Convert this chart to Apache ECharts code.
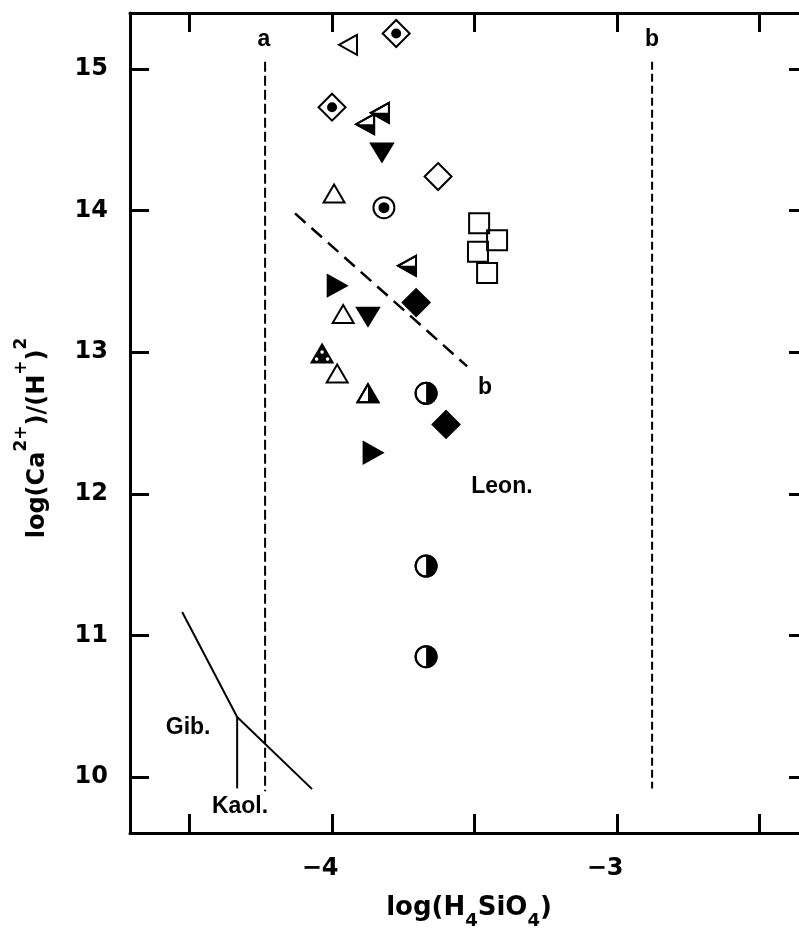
<!DOCTYPE html>
<html>
<head>
<meta charset="utf-8">
<script src="https://cdn.jsdelivr.net/npm/echarts@6/dist/echarts.min.js"></script>
<style>
  html, body { margin: 0; padding: 0; background: #ffffff; }
  #chart { width: 799px; height: 930px; }
</style>
</head>
<body>
<div id="chart"></div>
<script>
// ---- axis ranges and ticks ----
const xRange = [-4.709, -2.33];
const yRange = [9.605, 15.395];
const xTickValues = [-4.5, -4, -3.5, -3, -2.5];
const xLabelValues = [-4, -3];
const xLabelTexts = ['\u22124', '\u22123'];
const yTickValues = [10, 11, 12, 13, 14, 15];
const yLabelValues = [10, 11, 12, 13, 14, 15];

// ---- sample points: [log(H4SiO4), log(Ca2+)/(H+)2] ----
const openLeftTri   = [[-3.944, 15.17]];
const dotDiamond    = [[-3.775, 15.25], [-4.000, 14.73]];
const halfLeftTri   = [[-3.832, 14.69], [-3.884, 14.61], [-3.737, 13.61]];
const filledDownTri = [[-3.825, 14.41], [-3.874, 13.25]];
const openDiamond   = [[-3.628, 14.24]];
const openUpTri     = [[-3.993, 14.12], [-3.961, 13.27], [-3.982, 12.85]];
const dotCircle     = [[-3.818, 14.02]];
const openSquare    = [[-3.484, 13.91], [-3.421, 13.79], [-3.488, 13.71], [-3.456, 13.56]];
const filledRightTri= [[-3.982, 13.47], [-3.856, 12.29]];
const filledDiamond = [[-3.705, 13.35], [-3.600, 12.49]];
const notchedUpTri  = [[-4.035, 12.99]];
const halfUpTri     = [[-3.874, 12.71]];
const halfCircle    = [[-3.670, 12.71], [-3.670, 11.49], [-3.670, 10.85]];

// ---- boundary lines ----
const lineA        = [[-4.235, 15.05], [-4.235, 9.90]];
const lineB        = [[-2.877, 15.05], [-2.877, 9.92]];
const lineBSlope   = [[-4.130, 13.98], [-3.526, 12.90]];
const gibbsiteLine = [[-4.526, 11.165], [-4.333, 10.424], [-4.070, 9.915]];
const kaoliniteLine= [[-4.333, 10.424], [-4.333, 9.92]];

// ---- annotations: [x, y, text] ----
const annotations = [
  [-4.239, 15.205, 'a'],
  [-2.877, 15.205, 'b'],
  [-3.463, 12.747, 'b'],
  [-4.505, 10.346, 'Gib.'],
  [-4.323, 9.790, 'Kaol.'],
  [-3.404, 12.048, 'Leon.']
];

const INK = '#000000';
const LW = 2;
const AXIS_FONT = '"DejaVu Sans", sans-serif';
const NOTE_FONT = 'bold 23px "Liberation Sans", Arial, sans-serif';

// marker geometry (pixels, centred on the point)
const UP = [[0, -9], [10.5, 9], [-10.5, 9]];
const DOWN = [[-11, -9], [11, -9], [0, 9]];
const RIGHT = [[-9.5, -10.5], [9.5, 0], [-9.5, 10.5]];
const LEFT = [[9, -10], [-9, 0], [9, 10]];
const DIAMOND = [[0, -13.5], [13.5, 0], [0, 13.5], [-13.5, 0]];

const poly = (pts, fill) => ({ type: 'polygon', shape: { points: pts },
  style: { fill: fill, stroke: INK, lineWidth: LW, lineJoin: 'miter' } });
const solid = (pts) => ({ type: 'polygon', shape: { points: pts }, style: { fill: INK } });
const ring = (r, fill) => ({ type: 'circle', shape: { cx: 0, cy: 0, r: r },
  style: { fill: fill, stroke: INK, lineWidth: LW } });
const dot = (r, cx, cy, color) => ({ type: 'circle', shape: { cx: cx || 0, cy: cy || 0, r: r },
  style: { fill: color || INK } });

const shapes = {
  openLeftTri: () => [poly(LEFT, '#fff')],
  halfLeftTri: () => [poly(LEFT, '#fff'), solid([[-9, 0], [9, 0], [9, 10]]), poly(LEFT, 'none')],
  dotDiamond: () => [poly(DIAMOND, '#fff'), dot(5)],
  openDiamond: () => [poly(DIAMOND, '#fff')],
  filledDiamond: () => [poly(DIAMOND, INK)],
  filledDownTri: () => [poly(DOWN, INK)],
  filledRightTri: () => [poly(RIGHT, INK)],
  openUpTri: () => [poly(UP, '#fff')],
  halfUpTri: () => [poly(UP, '#fff'), solid([[0, -9], [10.5, 9], [0, 9]]), poly(UP, 'none')],
  notchedUpTri: () => [poly(UP, INK), dot(1.8, 0, -1.5, '#fff'), dot(1.8, -5.5, 5.5, '#fff'), dot(1.8, 5.5, 5.5, '#fff')],
  dotCircle: () => [ring(10.5, '#fff'), dot(5.5)],
  halfCircle: () => [ring(10.5, '#fff'),
    { type: 'sector', shape: { cx: 0, cy: 0, r0: 0, r: 10.5, startAngle: -Math.PI / 2, endAngle: Math.PI / 2 },
      style: { fill: INK } },
    ring(10.5, 'none')],
  openSquare: () => [{ type: 'rect', shape: { x: -10, y: -10, width: 20, height: 20 },
    style: { fill: 'none', stroke: INK, lineWidth: LW } }]
};

function markerSeries(data, shapeName) {
  return {
    type: 'custom',
    coordinateSystem: 'cartesian2d',
    data: data,
    encode: { x: 0, y: 1 },
    z: 5,
    silent: true,
    renderItem: function (params, api) {
      const p = api.coord([api.value(0), api.value(1)]);
      return { type: 'group', x: p[0], y: p[1], children: shapes[shapeName]() };
    }
  };
}

function lineSeries(data, dash, width) {
  return {
    type: 'line',
    data: data,
    symbol: 'none',
    silent: true,
    z: 3,
    lineStyle: { color: INK, width: width || 2, type: dash || 'solid' }
  };
}

const annotationSeries = {
  type: 'custom',
  coordinateSystem: 'cartesian2d',
  data: annotations.map(a => [a[0], a[1]]),
  encode: { x: 0, y: 1 },
  z: 6,
  silent: true,
  renderItem: function (params, api) {
    const p = api.coord([api.value(0), api.value(1)]);
    return {
      type: 'text', x: p[0], y: p[1],
      style: { text: annotations[params.dataIndex][2], font: NOTE_FONT, fill: INK,
               align: 'center', verticalAlign: 'middle' }
    };
  }
};

const frameLine = { show: true, onZero: false, lineStyle: { color: INK, width: 3 } };
const tickStyle = { color: INK, width: 3 };

const chart = echarts.init(document.getElementById('chart'), null, { renderer: 'canvas' });

chart.setOption({
  animation: false,
  backgroundColor: '#ffffff',
  grid: { left: 130, top: 13, width: 678, height: 820, outerBoundsMode: 'none', containLabel: false },
  xAxis: [
    {
      type: 'value', position: 'bottom', min: xRange[0], max: xRange[1],
      axisLine: frameLine,
      axisTick: { show: true, inside: true, length: 19, lineStyle: tickStyle, customValues: xTickValues },
      axisLabel: {
        show: true, customValues: xLabelValues, margin: 24,
        color: INK, fontFamily: AXIS_FONT, fontWeight: 'bold', fontSize: 24,
        padding: [0, 24, 0, 0],
        formatter: v => xLabelTexts[xLabelValues.indexOf(v)]
      },
      splitLine: { show: false },
      name: 'log(H{sub|4}SiO{sub|4})',
      nameLocation: 'middle',
      nameGap: 51,
      nameTextStyle: {
        color: INK, fontFamily: AXIS_FONT, fontWeight: 'bold', fontSize: 26, lineHeight: 44,
        rich: {
          sub: { fontFamily: AXIS_FONT, fontWeight: 'bold', fontSize: 18, lineHeight: 16, verticalAlign: 'bottom' }
        }
      }
    },
    {
      type: 'value', position: 'top', min: xRange[0], max: xRange[1],
      axisLine: frameLine,
      axisTick: { show: true, inside: true, length: 19, lineStyle: tickStyle, customValues: xTickValues },
      axisLabel: { show: false },
      splitLine: { show: false }
    }
  ],
  yAxis: [
    {
      type: 'value', position: 'left', min: yRange[0], max: yRange[1],
      axisLine: frameLine,
      axisTick: { show: true, inside: true, length: 19, lineStyle: tickStyle, customValues: yTickValues },
      axisLabel: {
        show: true, customValues: yLabelValues, margin: 22,
        color: INK, fontFamily: AXIS_FONT, fontWeight: 'bold', fontSize: 24
      },
      splitLine: { show: false },
      name: 'log(Ca{sup|2+})/(H{sup|+}){sup|2}',
      nameLocation: 'middle',
      nameGap: 67,
      nameTextStyle: {
        color: INK, fontFamily: AXIS_FONT, fontWeight: 'bold', fontSize: 24, lineHeight: 50,
        padding: [0, 30, 0, 0],
        rich: {
          sup: { fontFamily: AXIS_FONT, fontWeight: 'bold', fontSize: 17, lineHeight: 16, verticalAlign: 'top' }
        }
      }
    },
    {
      type: 'value', position: 'right', min: yRange[0], max: yRange[1],
      axisLine: frameLine,
      axisTick: { show: true, inside: true, length: 19, lineStyle: tickStyle, customValues: yTickValues },
      axisLabel: { show: false },
      splitLine: { show: false }
    }
  ],
  series: [
    lineSeries(lineA, [10, 4], 2),
    lineSeries(lineB, [8, 4], 2),
    lineSeries(lineBSlope, [14, 8], 2.5),
    lineSeries(gibbsiteLine, 'solid', 2),
    lineSeries(kaoliniteLine, 'solid', 2),
    markerSeries(openLeftTri, 'openLeftTri'),
    markerSeries(dotDiamond, 'dotDiamond'),
    markerSeries(halfLeftTri, 'halfLeftTri'),
    markerSeries(filledDownTri, 'filledDownTri'),
    markerSeries(openDiamond, 'openDiamond'),
    markerSeries(openUpTri, 'openUpTri'),
    markerSeries(dotCircle, 'dotCircle'),
    markerSeries(openSquare, 'openSquare'),
    markerSeries(filledRightTri, 'filledRightTri'),
    markerSeries(filledDiamond, 'filledDiamond'),
    markerSeries(notchedUpTri, 'notchedUpTri'),
    markerSeries(halfUpTri, 'halfUpTri'),
    markerSeries(halfCircle, 'halfCircle'),
    annotationSeries
  ]
});
</script>
</body>
</html>
